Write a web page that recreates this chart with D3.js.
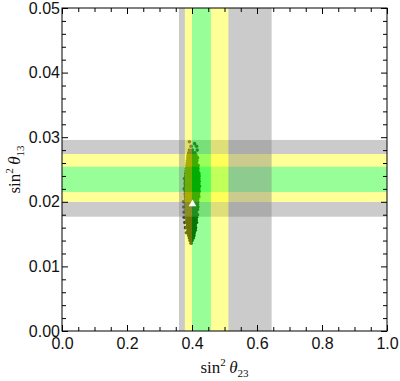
<!DOCTYPE html>
<html>
<head>
<meta charset="utf-8">
<script src="https://cdn.jsdelivr.net/npm/d3@7/dist/d3.min.js"></script>
<style>
  html, body { margin: 0; padding: 0; background: #fff; }
  svg { display: block; }
</style>
</head>
<body>
<svg id="chart" width="400" height="381"></svg>
<script>
// ---- data ----
const xMajorTicks = [0, 0.2, 0.4, 0.6, 0.8, 1.0];
const xTickLabels = ["0.0", "0.2", "0.4", "0.6", "0.8", "1.0"];
const yMajorTicks = [0, 0.01, 0.02, 0.03, 0.04, 0.05];
const yTickLabels = ["0.00", "0.01", "0.02", "0.03", "0.04", "0.05"];

// sin^2 theta23 bands: [3 sigma, 2 sigma, 1 sigma]
const bandsTheta23 = [
  { lo: 0.360, hi: 0.645, color: "#808080" },
  { lo: 0.378, hi: 0.512, color: "#ffff00" },
  { lo: 0.400, hi: 0.458, color: "#00ff00" }
];
// sin^2 theta13 bands
const bandsTheta13 = [
  { lo: 0.01769, hi: 0.02957, color: "#808080" },
  { lo: 0.01997, hi: 0.02740, color: "#ffff00" },
  { lo: 0.02152, hi: 0.02543, color: "#00ff00" }
];

// best-fit marker
const bestFit = [0.4015, 0.01966];

// scatter rows: [sin^2 theta13, [sin^2 theta23 values...]]
const scatterRows = [
  [0.0293, [0.392]],
  [0.0290, [0.408]],
  [0.0286, [0.397, 0.414]],
  [0.0280, [0.392, 0.401, 0.416]],
  [0.0276, [0.390, 0.396, 0.402, 0.409]],
  [0.0272, [0.388, 0.394, 0.400, 0.406, 0.412]],
  [0.0268, [0.387, 0.393, 0.399, 0.405, 0.411, 0.417]],
  [0.0264, [0.386, 0.392, 0.398, 0.404, 0.410, 0.415]],
  [0.0260, [0.385, 0.391, 0.397, 0.403, 0.409, 0.414]],
  [0.0256, [0.384, 0.390, 0.396, 0.402, 0.408, 0.414, 0.419]],
  [0.0252, [0.383, 0.389, 0.395, 0.401, 0.407, 0.413, 0.418]],
  [0.0248, [0.382, 0.388, 0.394, 0.400, 0.406, 0.412, 0.418]],
  [0.0244, [0.381, 0.387, 0.393, 0.399, 0.405, 0.411, 0.417, 0.421]],
  [0.0240, [0.381, 0.387, 0.393, 0.399, 0.405, 0.411, 0.417, 0.422]],
  [0.0236, [0.377, 0.386, 0.392, 0.398, 0.404, 0.410, 0.416, 0.421]],
  [0.0232, [0.380, 0.386, 0.392, 0.398, 0.404, 0.410, 0.416, 0.422]],
  [0.0228, [0.379, 0.385, 0.391, 0.397, 0.403, 0.409, 0.415, 0.421]],
  [0.0224, [0.380, 0.386, 0.392, 0.398, 0.404, 0.410, 0.416, 0.423]],
  [0.0220, [0.376, 0.385, 0.391, 0.397, 0.403, 0.409, 0.415, 0.421]],
  [0.0216, [0.380, 0.386, 0.392, 0.398, 0.404, 0.410, 0.416, 0.422]],
  [0.0212, [0.379, 0.385, 0.391, 0.397, 0.403, 0.409, 0.415, 0.420]],
  [0.0208, [0.380, 0.386, 0.392, 0.398, 0.404, 0.410, 0.416, 0.421]],
  [0.0204, [0.381, 0.387, 0.393, 0.399, 0.405, 0.411, 0.417]],
  [0.0200, [0.374, 0.381, 0.387, 0.393, 0.399, 0.405, 0.411, 0.418]],
  [0.0196, [0.381, 0.387, 0.393, 0.399, 0.405, 0.411, 0.417]],
  [0.0192, [0.375, 0.382, 0.388, 0.394, 0.400, 0.406, 0.412, 0.418]],
  [0.0188, [0.382, 0.388, 0.394, 0.400, 0.406, 0.412, 0.417]],
  [0.0184, [0.376, 0.383, 0.389, 0.395, 0.401, 0.407, 0.413]],
  [0.0180, [0.383, 0.389, 0.395, 0.401, 0.407, 0.413, 0.417]],
  [0.0176, [0.376, 0.384, 0.390, 0.396, 0.402, 0.408, 0.414]],
  [0.0172, [0.384, 0.390, 0.396, 0.402, 0.408, 0.413]],
  [0.0168, [0.378, 0.385, 0.391, 0.397, 0.403, 0.409, 0.414]],
  [0.0164, [0.386, 0.392, 0.398, 0.404, 0.410]],
  [0.0160, [0.380, 0.387, 0.393, 0.399, 0.405, 0.411]],
  [0.0156, [0.388, 0.394, 0.400, 0.406, 0.410]],
  [0.0152, [0.383, 0.389, 0.395, 0.401, 0.407]],
  [0.0148, [0.390, 0.396, 0.402, 0.406]],
  [0.0144, [0.392, 0.398, 0.404]],
  [0.0140, [0.394, 0.400]],
  [0.0136, [0.397]]
];

// ---- drawing ----
const svg = d3.select("#chart");
const x = d3.scaleLinear().domain([0, 1]).range([62, 387]);
const y = d3.scaleLinear().domain([0, 0.05]).range([331, 8]);

const points = [];
scatterRows.forEach(([yy, xs]) => xs.forEach(xx => points.push([xx, yy])));

svg.append("defs").append("clipPath").attr("id", "clip")
  .append("rect").attr("x", 62).attr("y", 8).attr("width", 325).attr("height", 323);

const plot = svg.append("g").attr("clip-path", "url(#clip)");

// scatter points (under the bands)
plot.append("g").selectAll("circle").data(points).join("circle")
  .attr("cx", d => x(d[0])).attr("cy", d => y(d[1]))
  .attr("r", 1.8).attr("fill", "#0c1a0c");

// horizontal bands (theta13)
const hg = plot.append("g").attr("opacity", 0.4);
hg.selectAll("rect").data(bandsTheta13).join("rect")
  .attr("x", x(0)).attr("width", x(1) - x(0))
  .attr("y", d => y(d.hi)).attr("height", d => y(d.lo) - y(d.hi))
  .attr("fill", d => d.color);

// vertical bands (theta23)
const vg = plot.append("g").attr("opacity", 0.4);
vg.selectAll("rect").data(bandsTheta23).join("rect")
  .attr("y", y(0.05)).attr("height", y(0) - y(0.05))
  .attr("x", d => x(d.lo)).attr("width", d => x(d.hi) - x(d.lo))
  .attr("fill", d => d.color);

// best fit triangle
plot.append("path")
  .attr("d", d3.symbol(d3.symbolTriangle, 26)())
  .attr("transform", `translate(${x(bestFit[0])},${y(bestFit[1])})`)
  .attr("fill", "#fff");

// ---- axes ----
const fontTick = "'Liberation Sans', Arial, sans-serif";
const xMinor = d3.range(0, 1.0001, 0.05).filter(v => !xMajorTicks.some(m => Math.abs(m - v) < 1e-6));
const yMinor = d3.range(0, 0.05001, 0.002).filter(v => !yMajorTicks.some(m => Math.abs(m - v) < 1e-9));

function styleAxis(g) {
  g.select(".domain").remove();
  g.selectAll("line").attr("stroke", "#000").attr("stroke-width", 1);
  g.selectAll("text").attr("font-family", fontTick).attr("font-size", 16).attr("fill", "#111");
}

// bottom
svg.append("g").attr("transform", `translate(0,${y(0)})`)
  .call(d3.axisBottom(x).tickValues(xMajorTicks).tickSize(-6).tickPadding(7)
    .tickFormat((d, i) => xTickLabels[i])).call(styleAxis);
svg.append("g").attr("transform", `translate(0,${y(0)})`)
  .call(d3.axisBottom(x).tickValues(xMinor).tickSize(-4).tickFormat("")).call(styleAxis);
// top
svg.append("g").attr("transform", `translate(0,${y(0.05)})`)
  .call(d3.axisTop(x).tickValues(xMajorTicks).tickSize(-6).tickFormat("")).call(styleAxis);
svg.append("g").attr("transform", `translate(0,${y(0.05)})`)
  .call(d3.axisTop(x).tickValues(xMinor).tickSize(-4).tickFormat("")).call(styleAxis);
// left
svg.append("g").attr("transform", `translate(${x(0)},0)`)
  .call(d3.axisLeft(y).tickValues(yMajorTicks).tickSize(-6).tickPadding(2)
    .tickFormat((d, i) => yTickLabels[i])).call(styleAxis);
svg.append("g").attr("transform", `translate(${x(0)},0)`)
  .call(d3.axisLeft(y).tickValues(yMinor).tickSize(-4).tickFormat("")).call(styleAxis);
// right
svg.append("g").attr("transform", `translate(${x(1)},0)`)
  .call(d3.axisRight(y).tickValues(yMajorTicks).tickSize(-6).tickFormat("")).call(styleAxis);
svg.append("g").attr("transform", `translate(${x(1)},0)`)
  .call(d3.axisRight(y).tickValues(yMinor).tickSize(-4).tickFormat("")).call(styleAxis);

// frame
svg.append("rect").attr("x", x(0)).attr("y", y(0.05))
  .attr("width", x(1) - x(0)).attr("height", y(0) - y(0.05))
  .attr("fill", "none").attr("stroke", "#000").attr("stroke-width", 1);

// ---- axis titles ----
const fontTitle = "'Liberation Serif', 'Times New Roman', serif";
function title(g, sub) {
  const t = g.append("text").attr("font-family", fontTitle).attr("font-size", 17).attr("fill", "#111")
    .attr("text-anchor", "middle");
  t.append("tspan").text("sin");
  t.append("tspan").attr("font-size", 11).attr("dy", -7).text("2");
  t.append("tspan").attr("dy", 7).text("\u2009");
  t.append("tspan").attr("font-style", "italic").text("\u03b8");
  t.append("tspan").attr("font-size", 11).attr("dy", 4).text(sub);
  return t;
}
title(svg.append("g").attr("transform", `translate(${(x(0) + x(1)) / 2},373)`), "23");
title(svg.append("g").attr("transform", `translate(19.5,${(y(0) + y(0.05)) / 2}) rotate(-90)`), "13");
</script>
</body>
</html>
